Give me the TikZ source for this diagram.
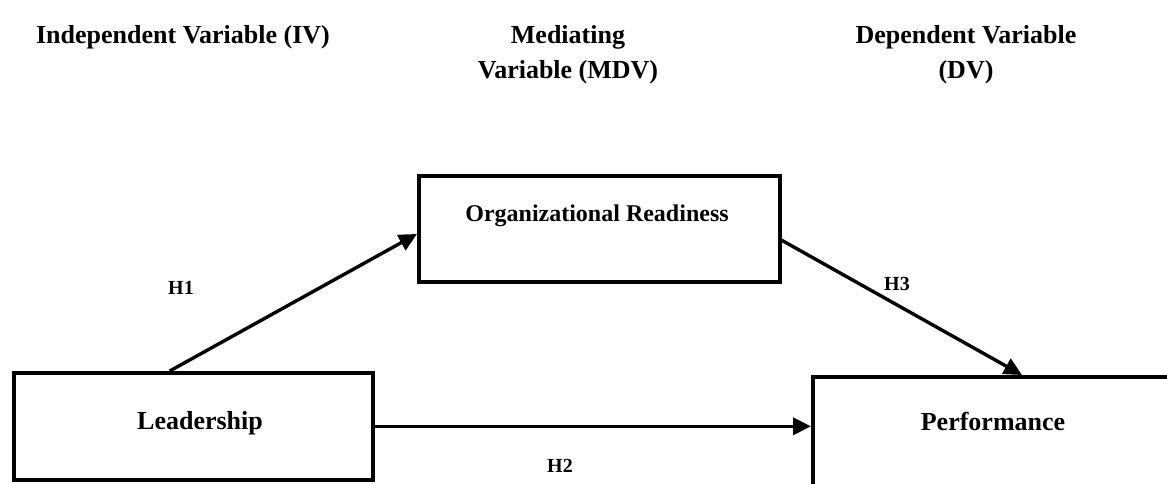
\documentclass[tikz,border=0pt]{standalone}
\usepackage{fontspec}
\setmainfont{Liberation Serif}
\usetikzlibrary{arrows.meta,calc}
\begin{document}
\begin{tikzpicture}[x=1pt,y=-1pt,
  box/.style={draw, line width=3.6pt, inner sep=0pt, anchor=north west},
  boxtext/.style={font=\bfseries\fontsize{26}{31}\selectfont, anchor=base, inner sep=0pt},
  innertext/.style={font=\bfseries\fontsize{24}{29}\selectfont, anchor=base, inner sep=0pt},
  head/.style={font=\bfseries\fontsize{26}{35}\selectfont, align=center, anchor=base, inner sep=0pt},
  hyp/.style={font=\bfseries\fontsize{20}{24}\selectfont, anchor=base, inner sep=0pt},
  link/.style={line width=3.4pt, -{Triangle[length=18pt,width=17pt]}}]
  \clip (0,0) rectangle (1167,483);

  % column headings (base anchor sits on the last line)
  \node[head] (ivhead) at (183,43) {Independent Variable (IV)};
  \node[head] (mdvhead) at (568,78) {Mediating\\Variable (MDV)};
  \node[head] (dvhead) at (966,78) {Dependent Variable\\(DV)};

  % variable boxes
  \node[box, minimum width=359pt, minimum height=107pt] (lead) at (12,371) {};
  \node[box, minimum width=361pt, minimum height=106pt] (org) at (417,174) {};
  \node[box, minimum width=400pt, minimum height=200pt] (perf) at (811,375) {};

  \node[boxtext] (leadtxt) at (200,429) {Leadership};
  \node[innertext] (orgtxt) at (597,221) {Organizational Readiness};
  \node[boxtext] (perftxt) at (993,430) {Performance};

  % hypothesised paths
  \draw[link] ($(lead.north west)!0.435!(lead.north east)$) -- ($(org.north west)!0.547!(org.south west)$);
  \draw[link] (lead.east) -- (lead.east -| perf.west);
  \draw[link] ($(org.north east)!0.604!(org.south east)$) -- ([xshift=211pt]perf.north west);

  \node[hyp] (h1) at (181,294) {H1};
  \node[hyp] (h2) at (560,472) {H2};
  \node[hyp] (h3) at (897,290) {H3};
\end{tikzpicture}
\end{document}
